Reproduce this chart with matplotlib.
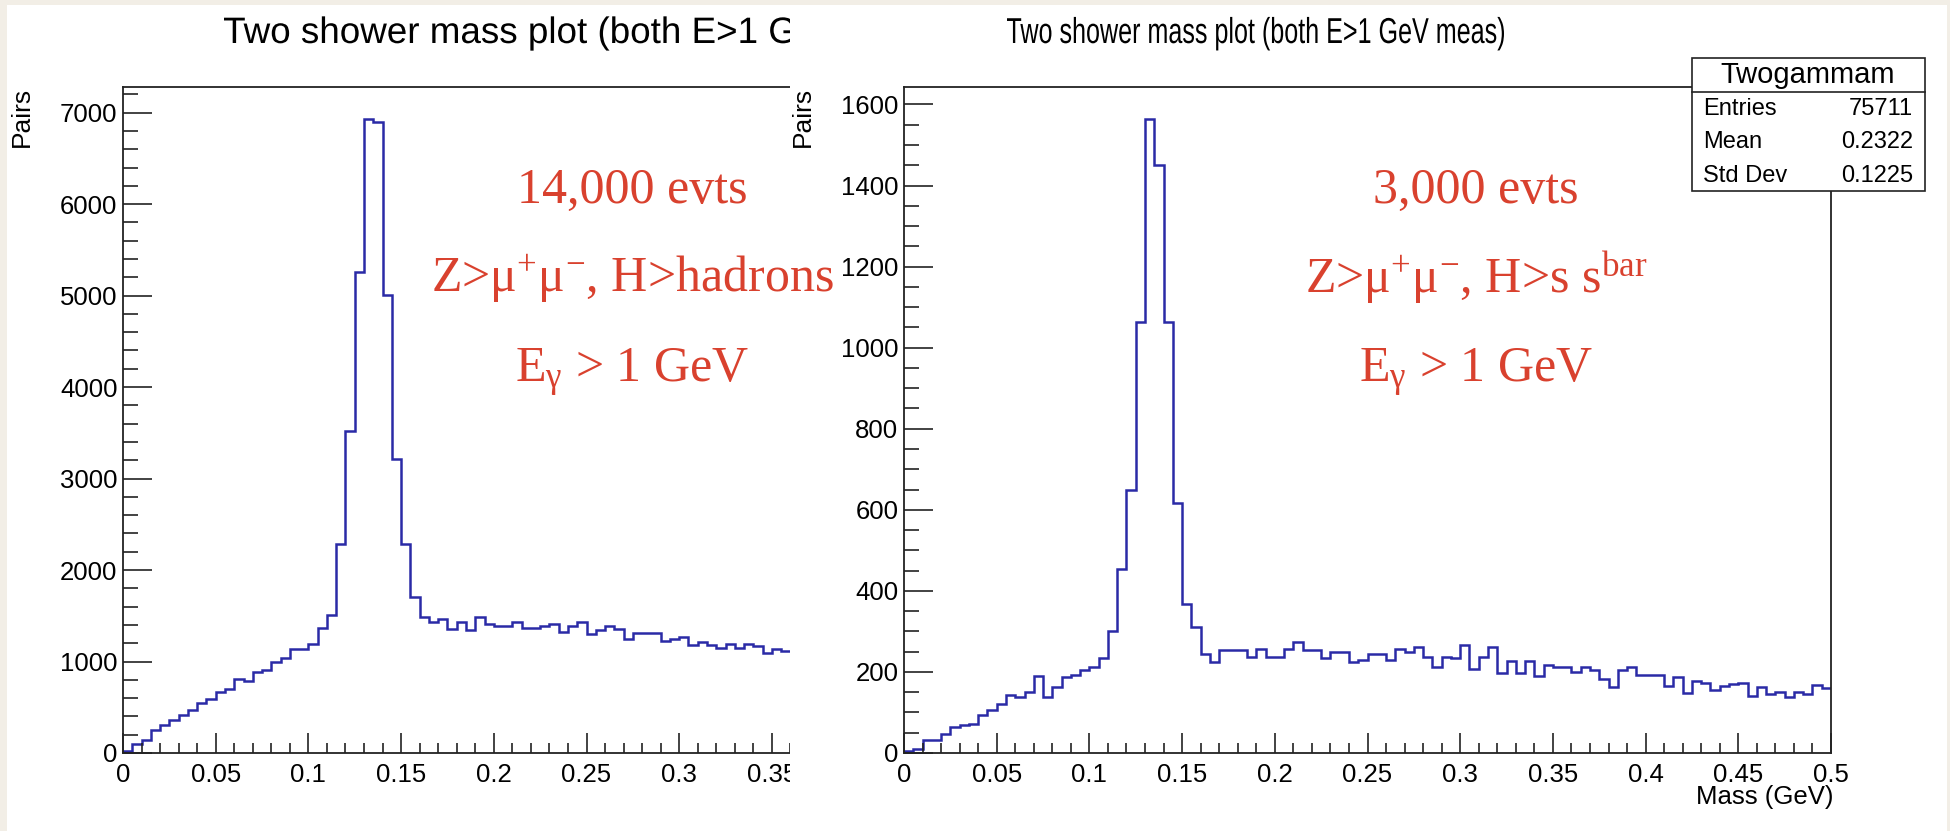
import matplotlib.pyplot as plt
import numpy as np
from matplotlib.patches import Rectangle, PathPatch
from matplotlib.textpath import TextPath
from matplotlib.font_manager import FontProperties
from matplotlib.transforms import Affine2D
from matplotlib.ticker import MultipleLocator, FixedLocator, FormatStrFormatter

plt.rcParams['font.family'] = ['Liberation Sans', 'DejaVu Sans']
plt.rcParams['mathtext.fontset'] = 'custom'
plt.rcParams['mathtext.rm'] = 'Liberation Serif'
plt.rcParams['mathtext.it'] = 'Liberation Serif:italic'
plt.rcParams['mathtext.bf'] = 'Liberation Serif:bold'

# two-shower invariant mass, 0.005 GeV bins starting at 0
bin_width = 0.005

# Z>mumu, H>hadrons sample (only the first 72 bins are shown)
hadrons_counts = [20, 100, 147, 246, 305, 357, 415, 474, 551, 592,
                  669, 695, 809, 783, 882, 908, 1000, 1040, 1132, 1132,
                  1195, 1368, 1504, 2280, 3520, 5260, 6934, 6900, 5010, 3210,
                  2290, 1700, 1489, 1434, 1470, 1360, 1434, 1342, 1489, 1408,
                  1386, 1386, 1434, 1368, 1368, 1386, 1408, 1324, 1386, 1434,
                  1305, 1349, 1386, 1360, 1246, 1312, 1312, 1312, 1224, 1246,
                  1268, 1184, 1213, 1176, 1150, 1195, 1147, 1195, 1165, 1092,
                  1132, 1114]

# Z>mumu, H>s sbar sample
ssbar_counts = [5, 11, 32, 32, 46, 64, 69, 72, 94, 106,
                120, 143, 137, 151, 191, 137, 163, 187, 192, 205,
                213, 235, 300, 454, 650, 1063, 1565, 1450, 1063, 617,
                367, 310, 243, 224, 253, 253, 253, 237, 257, 238,
                238, 256, 275, 255, 253, 235, 248, 248, 224, 230,
                243, 243, 230, 256, 248, 261, 237, 212, 238, 235,
                266, 207, 237, 261, 198, 226, 198, 226, 189, 217,
                213, 213, 199, 213, 205, 183, 163, 205, 213, 192,
                192, 192, 166, 187, 149, 178, 172, 155, 166, 170,
                173, 141, 162, 145, 150, 137, 150, 145, 168, 160]

title = 'Two shower mass plot (both E>1 GeV meas)'
stats_name = 'Twogammam'
stats_rows = [('Entries', '75711'), ('Mean', '0.2322'), ('Std Dev', '0.1225')]

left_notes = ['14,000 evts', r'Z>$\mathrm{μ^{+}μ^{-}}$, H>hadrons', r'E$_{\mathrm{γ}}$ > 1 GeV']
right_notes = ['3,000 evts', r'Z>$\mathrm{μ^{+}μ^{-}}$, H>s s$^{\mathrm{bar}}$', r'E$_{\mathrm{γ}}$ > 1 GeV']

W, H = 1950, 831
hist_color = '#2a2aa6'
note_color = '#d9412e'
sans = FontProperties(family='Liberation Sans')


def px(x, y):
    return x / W, 1 - y / H


def pixel_title(x, baseline, text, size, width=None, zorder=2):
    # title drawn as a path (pixel units -> figure fraction), optionally squeezed to a width
    tp = TextPath((0, 0), text, size=size, prop=sans)
    ext = tp.get_extents()
    sx = 1.0 if width is None else width / ext.width
    tr = (Affine2D().translate(-ext.x0, 0).scale(sx, 1)
          .translate(x, H - baseline).scale(1 / W, 1 / H))
    fig.add_artist(PathPatch(tr.transform_path(tp), fc='black', ec='none', lw=0,
                             transform=fig.transFigure, zorder=zorder))


def style_axes(ax, ymax, ymajor, yminor, xmax_tick=0.5):
    ax.set_xlim(0, 0.5)
    ax.set_ylim(0, ymax)
    ax.xaxis.set_major_locator(FixedLocator(np.arange(0, xmax_tick + 1e-9, 0.05)))
    ax.xaxis.set_minor_locator(FixedLocator(np.arange(0, xmax_tick + 0.01 + 1e-9, 0.01)))
    ax.yaxis.set_major_locator(MultipleLocator(ymajor))
    ax.yaxis.set_minor_locator(MultipleLocator(yminor))
    ax.xaxis.set_major_formatter(FormatStrFormatter('%g'))
    ax.yaxis.set_major_formatter(FormatStrFormatter('%g'))
    ax.tick_params(which='both', direction='in', top=False, right=False,
                   width=1.2, labelsize=18.5, color='#222222')
    ax.tick_params(axis='x', which='major', length=14.5, pad=7)
    ax.tick_params(axis='x', which='minor', length=7)
    ax.tick_params(axis='y', which='major', length=21, pad=4)
    ax.tick_params(axis='y', which='minor', length=11)
    for s in ax.spines.values():
        s.set_linewidth(1.3)
        s.set_color('#222222')


fig = plt.figure(figsize=(W / 100, H / 100), dpi=100, facecolor='#f2eee6')
fig.add_artist(Rectangle(px(7, H), (1947 - 7) / W, (H - 5) / H,
                         transform=fig.transFigure, fc='white', ec='none', zorder=-1))

ax_w = 927 / W
ax_h = 666 / H
ax_b = (H - 753) / H

# left pad: H>hadrons
ax1 = fig.add_axes([123 / W, ax_b, ax_w, ax_h], zorder=0)
edges1 = np.arange(len(hadrons_counts) + 1) * bin_width
ax1.stairs(hadrons_counts, edges1, baseline=None, color=hist_color, lw=1.8)
style_axes(ax1, 7280, 1000, 200, xmax_tick=0.35)
fig.text(*px(22, 87), 'Pairs', rotation=90, ha='center', va='top', fontsize=19, zorder=0.2)
pixel_title(224, 43, title, 36.8, zorder=0.2)

# the left pad is cut off where the right pad begins
fig.add_artist(Rectangle(px(790, H), (1947 - 790) / W, (H - 5) / H,
                         transform=fig.transFigure, fc='white', ec='none', zorder=0.5))

# right pad: H>s sbar
ax2 = fig.add_axes([904 / W, ax_b, ax_w, ax_h], zorder=1)
edges2 = np.arange(len(ssbar_counts) + 1) * bin_width
ax2.stairs(ssbar_counts, edges2, baseline=None, color=hist_color, lw=1.8)
style_axes(ax2, 1643, 200, 50)
fig.text(*px(803, 87), 'Pairs', rotation=90, ha='center', va='top', fontsize=19, zorder=2)
pixel_title(1007, 43, title, 36, width=497, zorder=2)
fig.text(*px(1833, 797), 'Mass (GeV)', ha='right', va='center', fontsize=18.5, zorder=2)

# statistics box
fig.add_artist(Rectangle(px(1692, 191), (1925 - 1692) / W, (191 - 58) / H,
                         transform=fig.transFigure, fc='white', ec='#222222', lw=1.2, zorder=2))
fig.add_artist(plt.Line2D([1692 / W, 1925 / W], [1 - 92 / H, 1 - 92 / H],
                          transform=fig.transFigure, color='#222222', lw=1.2, zorder=2.1))
fig.text(*px(1808, 75), stats_name, ha='center', va='center', fontsize=21, zorder=3)
for i, (name, val) in enumerate(stats_rows):
    y = 109 + i * 33.5
    fig.text(*px(1703, y), name, ha='left', va='center', fontsize=17, zorder=3)
    fig.text(*px(1913, y), val, ha='right', va='center', fontsize=17, zorder=3)

# annotations on top of both pads
for i, line in enumerate(left_notes):
    fig.text(*px(632, 203 + i * 89.5), line, ha='center', va='baseline',
             fontsize=36, color=note_color, family='Liberation Serif', zorder=5)
for i, line in enumerate(right_notes):
    fig.text(*px(1476, 203 + i * 89.5), line, ha='center', va='baseline',
             fontsize=36, color=note_color, family='Liberation Serif', zorder=5)

fig.savefig('out.png', dpi=100, facecolor=fig.get_facecolor())
